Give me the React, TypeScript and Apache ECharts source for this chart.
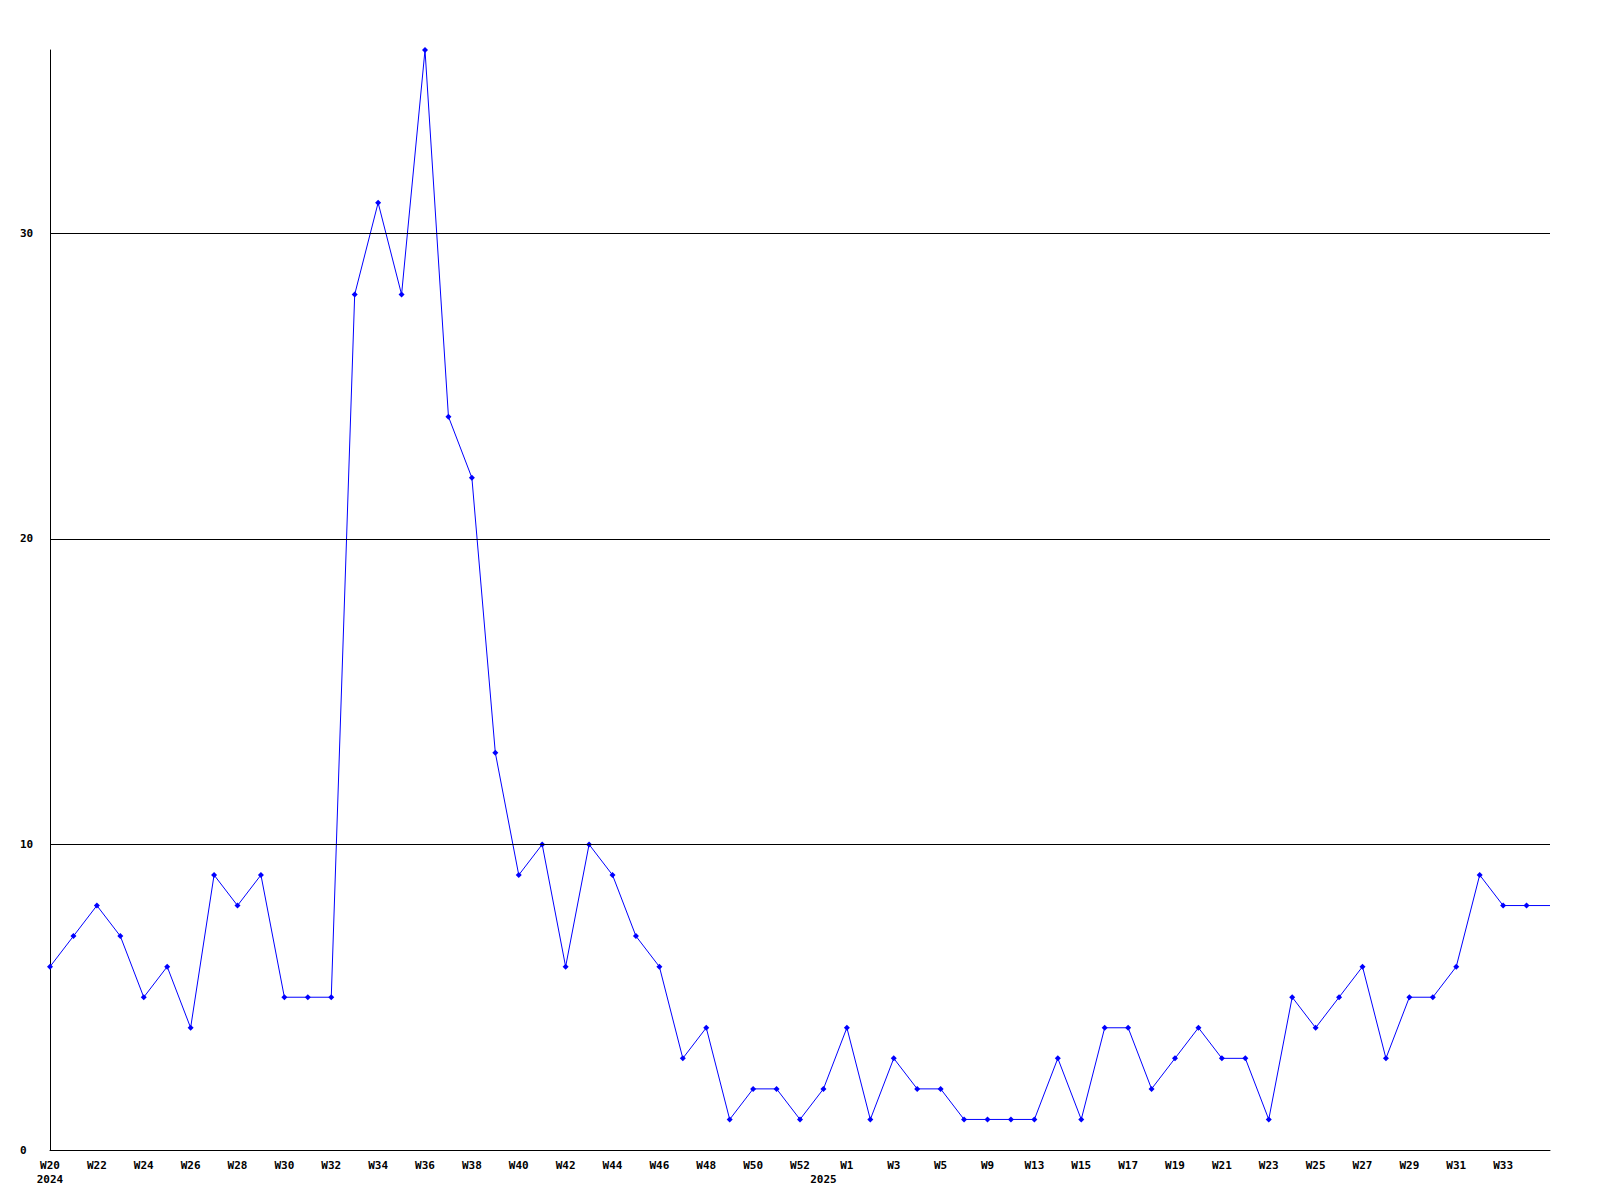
import React, { useEffect, useRef } from "react";
import * as echarts from "echarts";

const weeks: string[] = [
  "W20", "W21", "W22", "W23", "W24", "W25", "W26", "W27", "W28", "W29",
  "W30", "W31", "W32", "W33", "W34", "W35", "W36", "W37", "W38", "W39",
  "W40", "W41", "W42", "W43", "W44", "W45", "W46", "W47", "W48", "W49",
  "W50", "W51", "W52", "W53",
  "W1", "W2", "W3", "W4", "W5", "W7", "W9", "W11", "W13", "W14",
  "W15", "W16", "W17", "W18", "W19", "W20", "W21", "W22", "W23", "W24",
  "W25", "W26", "W27", "W28", "W29", "W30", "W31", "W32", "W33", "W34", "W35",
];

const counts: number[] = [
  6, 7, 8, 7, 5, 6, 4, 9, 8, 9,
  5, 5, 5, 28, 31, 28, 36, 24, 22, 13,
  9, 10, 6, 10, 9, 7, 6, 3, 4, 1,
  2, 2, 1, 2,
  4, 1, 3, 2, 2, 1, 1, 1, 1, 3,
  1, 4, 4, 2, 3, 4, 3, 3, 1, 5,
  4, 5, 6, 3, 5, 5, 6, 9, 8, 8, 8,
];

const yearAt: Record<number, string> = { 0: "2024", 33: "2025" };
const gridLevels: number[] = [10, 20, 30];
const yMax = 36;

export default function App() {
  const ref = useRef<HTMLDivElement>(null);
  useEffect(() => {
    if (!ref.current) return;
    const chart = echarts.init(ref.current, null, { renderer: "svg" });
    const font = "'DejaVu Sans Mono', monospace";
    const lastIdx = counts.length - 1;
    chart.setOption({
      animation: false,
      backgroundColor: "#ffffff",
      grid: { left: 50, right: 50, top: 50, bottom: 50 },
      xAxis: {
        type: "category",
        data: weeks,
        boundaryGap: false,
        axisLine: { lineStyle: { color: "#000", width: 1 } },
        axisTick: { show: false },
        splitLine: { show: false },
        axisLabel: {
          interval: (idx: number) =>
            idx !== lastIdx && (idx % 2 === 0 || idx === 33),
          formatter: (value: string, idx: number) => {
            const top = idx % 2 === 0 ? value : "";
            const yr = yearAt[idx];
            return yr ? top + "\n" + yr : top;
          },
          fontFamily: font,
          fontWeight: "bold",
          fontSize: 11,
          lineHeight: 14,
          color: "#000",
          margin: 8,
          verticalAlign: "top",
        },
      },
      yAxis: {
        type: "value",
        min: 0,
        max: yMax,
        interval: 10,
        axisLine: { show: true, lineStyle: { color: "#000", width: 1 } },
        axisTick: { show: false },
        splitLine: { show: false },
        axisLabel: {
          showMaxLabel: false,
          formatter: (v: number) => (v === yMax ? "" : String(v)),
          align: "left",
          margin: 30,
          fontFamily: font,
          fontWeight: "bold",
          fontSize: 11,
          color: "#000",
        },
      },
      series: [
        {
          type: "line",
          data: counts.map((v, i) =>
            i === lastIdx ? { value: v, symbol: "none" } : v
          ),
          symbol: "diamond",
          symbolSize: 6,
          showAllSymbol: true,
          lineStyle: { color: "#0000ff", width: 1 },
          itemStyle: { color: "#0000ff" },
          markLine: {
            silent: true,
            symbol: "none",
            label: { show: false },
            lineStyle: { color: "#000", width: 1, type: "solid" },
            data: gridLevels.map((y) => ({ yAxis: y })),
          },
          z: 3,
        },
      ],
    });
    return () => chart.dispose();
  }, []);
  return (
    <div
      ref={ref}
      style={{ position: "fixed", left: 0, top: 0, width: 1600, height: 1200 }}
    />
  );
}
